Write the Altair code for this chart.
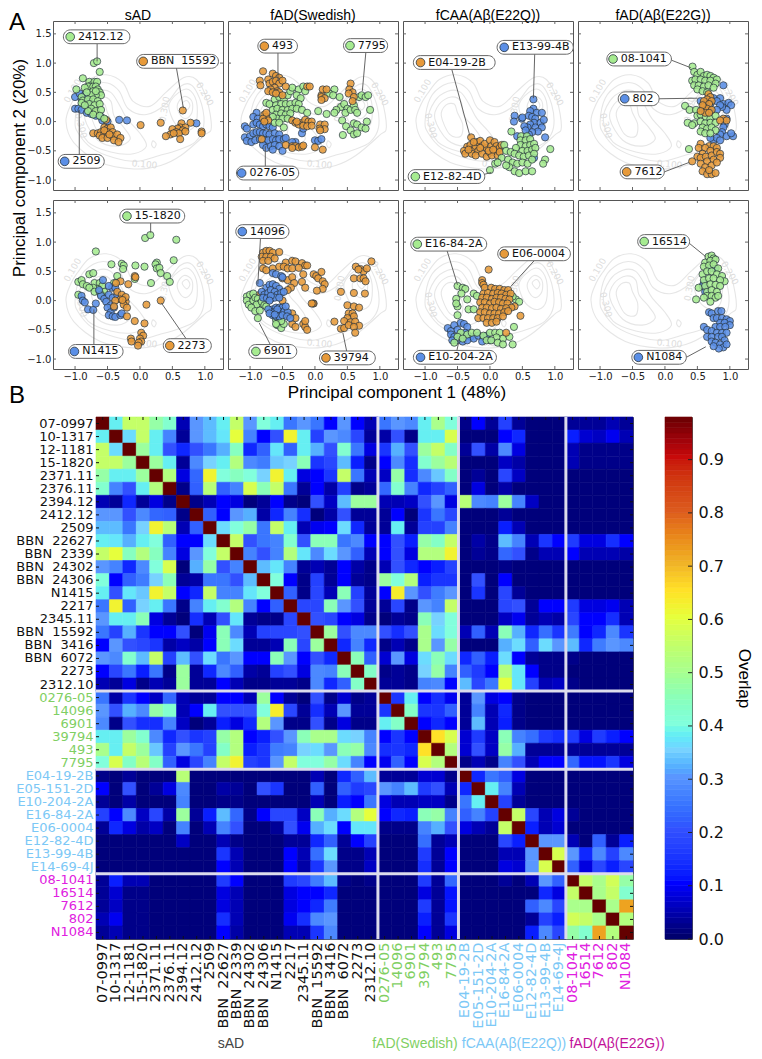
import altair as alt
import pandas as pd

GREEN = "#a6eb90"
BLUE = "#5b8fe6"
ORANGE = "#e79a3a"

# ---------- scatter data (PC1, PC2) per donor ----------
s2412 = [(-.71,1.0),(-.66,1.03),(-.62,.85),(-.88,.74),(-.78,.68),(-.75,.62),(-.8,.6),(-.85,.58),(-.7,.68),(-.72,.6),(-.66,.68),(-.68,.6),(-.65,.55),(-.72,.52),(-.62,.5),(-.6,.45),(-.68,.45),(-.75,.45),(-.82,.5),(-.98,.55),(-.9,.42),(-.88,.36),(-.8,.38),(-.72,.38),(-.65,.35),(-.78,.3),(-.7,.28),(-.62,.3),(-.75,.22),(-.8,.18),(-.68,.18),(-.6,.2),(-.72,.12),(-.62,.1),(-.55,.05),(-.9,.32),(-.85,.28),(-.68,.52)]
s2509 = [(-1.0,.42),(-.93,.48),(-.85,.45),(-.9,.38),(-.85,.3),(-1.0,.22),(-.95,.22),(-.9,.2),(-.82,.15),(-.75,.13),(-.68,.1),(-.6,.08),(-.58,.02),(-.5,.0),(-.32,.03),(-.2,.02),(.87,-.03),(-.78,.35),(-.75,.2)]
s15592 = [(.66,.19),(.32,-.02),(.01,-.06),(.64,-.03),(.78,-.02),(.62,-.1),(.7,-.1),(.58,-.12),(.66,-.15),(.5,-.13),(.56,-.18),(.47,-.22),(.4,-.25),(.6,-.2),(.52,-.2),(.62,-.3),(.95,-.17),(.95,-.2),(.7,-.17),(-.72,-.2),(-.65,-.2),(-.6,-.18),(-.55,-.1),(-.5,-.12),(-.45,-.1),(-.62,-.24),(-.55,-.22),(-.5,-.18),(-.42,-.18),(-.58,-.28),(-.5,-.28),(-.42,-.25),(-.35,-.22),(-.3,-.28),(-.4,-.32),(-.33,-.35),(-.55,-.15),(-.47,-.22),(-.7,.16),(-.52,.03)]

s0276 = [(-.9,.15),(-.95,.08),(-.88,.05),(-1.08,-.08),(-1.05,-.12),(-.95,-.05),(-.9,-.02),(-.85,-.05),(-.8,-.08),(-.75,-.05),(-.7,-.08),(-.65,-.1),(-1.08,-.27),(-1.0,-.25),(-.95,-.2),(-.9,-.18),(-.85,-.18),(-.8,-.2),(-.75,-.2),(-.7,-.22),(-.62,-.2),(-.55,-.22),(-1.05,-.33),(-.98,-.35),(-.92,-.32),(-.85,-.3),(-.78,-.32),(-.72,-.32),(-.65,-.3),(-.6,-.32),(-.55,-.3),(-.48,-.3),(-.8,-.4),(-.75,-.45),(-.68,-.42),(-.62,-.4),(-.55,-.42),(-.5,-.5),(-.65,-.48),(-.45,-.28),(-.2,-.2),(-.18,-.12),(.0,-.32),(.05,-.33),(.1,-.3),(-.3,-.35),(-.35,-.35)]
s493 = [(-.8,.86),(-.85,.7),(-.84,.62),(-.72,.72),(-.65,.82),(-.6,.78),(-.55,.75),(-.7,.65),(-.65,.68),(-.6,.7),(-.55,.65),(-.62,.58),(-.68,.55),(-.58,.52),(-.55,.5),(-.72,.52),(-.65,.5),(-.6,.48),(-.5,.7),(-.45,.6),(-.5,.45),(-.12,.6),(-.08,.6),(.1,.45),(.12,.55),(.18,.55),(.1,.42),(.15,.4),(.1,.37),(.55,.65),(.53,.55),(.58,.5),(.52,.48),(.6,.42),(.58,.35),(-.78,.12),(-.75,.08),(-.8,.05),(-.72,.02),(-.78,0.0),(-.75,.15),(-.35,.02),(-.3,-.02),(-.2,-.02),(-.15,.03),(-.1,.0),(-.05,.0),(-.25,-.05),(-.18,-.07),(-.12,-.08),(-.05,-.07),(-.28,.0),(.08,-.05),(.15,-.05),(.15,-.13),(.07,-.12),(.08,-.15),(-.45,-.4),(-.35,-.42),(-.3,-.42),(-.25,-.44),(-.2,-.43),(-.18,-.41),(.0,-.44),(.12,-.48),(-.82,-.3),(-.35,-.45)]
s7795 = [(-.75,.32),(-.7,.3),(-.62,.38),(-.55,.42),(-.48,.38),(-.42,.45),(-.38,.52),(-.35,.58),(-.25,.55),(-.18,.6),(-.15,.52),(-.28,.45),(-.22,.4),(-.6,.28),(-.52,.3),(-.45,.3),(-.38,.3),(-.3,.32),(-.25,.3),(-.65,.2),(-.58,.22),(-.5,.2),(-.42,.2),(-.35,.22),(-.28,.22),(-.6,.12),(-.52,.14),(-.45,.12),(-.38,.14),(-.58,.05),(-.5,.05),(-.42,.05),(-.65,.08),(-.62,-.02),(-.55,-.02),(-.48,-.1),(-.2,.2),(-.12,.15),(.05,.18),(.18,.13),(.3,.55),(.22,.48),(.28,.45),(.38,.42),(.4,.25),(.33,.2),(.3,.15),(.45,.3),(.5,.22),(.47,.15),(.55,.2),(.6,.28),(.68,.42),(.72,.45),(.78,.42),(.82,.45),(.85,.2),(.62,.2),(.65,.15),(.42,.02),(.48,-.08),(.55,-.15),(.6,-.03),(.65,-.05),(.72,-.1),(.8,0.0),(.78,-.12),(.43,-.23),(.6,-.22),(.65,-.2)]

sE13 = [(.67,.38),(.67,.22),(.72,.15),(.62,.18),(.8,.15),(.38,.1),(.37,0),(.49,.05),(.5,.07),(.6,.1),(.65,.08),(.7,.05),(.68,-.02),(.62,-.05),(.58,-.1),(.53,-.08),(.7,-.1),(.78,-.02),(.83,.03),(.8,-.1),(.74,-.17),(.65,-.18),(.6,-.22),(.55,-.15),(.42,-.25),(.85,-.27),(.68,-.62)]
sE04 = [(-.29,-.27),(-.35,-.43),(-.4,-.5),(-.38,-.55),(-.3,-.4),(-.25,-.48),(-.22,-.42),(-.2,-.35),(-.15,-.33),(-.12,-.42),(-.18,-.5),(-.28,-.55),(-.22,-.58),(-.12,-.55),(-.05,-.6),(.0,-.53),(-.05,-.45),(-.08,-.38),(.0,-.32),(.02,-.42),(.07,-.35),(.1,-.42),(.08,-.5),(.03,-.58),(.12,-.58),(.15,-.45),(.15,-.52),(-.33,-.48),(-.25,-.35),(-.15,-.45),(-.02,-.5),(.05,-.48),(.18,-.4)]
sE12 = [(.33,-.17),(.48,-.25),(.57,-.25),(.47,-.32),(.55,-.32),(.62,-.3),(.47,-.4),(.55,-.42),(.62,-.4),(.68,-.38),(.4,-.45),(.5,-.5),(.58,-.5),(.65,-.48),(.7,-.45),(.22,-.4),(.25,-.5),(.32,-.52),(.38,-.55),(.45,-.58),(.52,-.6),(.6,-.58),(.68,-.55),(.18,-.62),(.28,-.65),(.35,-.7),(.42,-.72),(.5,-.7),(.58,-.72),(.65,-.65),(.3,-.78),(.38,-.85),(.45,-.88),(.55,-.85),(.65,-.85),(.0,-.83),(.08,-.72),(.12,-.7),(.25,-.75),(.93,-.47),(.85,-.65),(.82,-.72)]

s802 = [(.9,.62),(.85,.4),(.9,.3),(.98,.32),(1.02,.28),(.95,.2),(.88,.25),(.55,.35),(.6,.3),(.65,.25),(.7,.38),(.75,.4),(.8,.35),(.85,.28),(.58,.2),(.7,.18),(.8,.2),(.95,.05),(.92,-.05),(.9,-.1),(.88,-.18),(.95,-.25),(1.05,-.25),(1.02,-.2),(.85,-.22),(.75,-.32),(.8,-.28),(.7,-.28),(.85,-.32),(.7,.3)]
s081041 = [(.425,.94),(.45,.85),(.5,.8),(.55,.85),(.6,.78),(.65,.8),(.7,.78),(.75,.75),(.8,.72),(.42,.7),(.47,.72),(.55,.72),(.62,.7),(.7,.7),(.78,.65),(.45,.62),(.52,.62),(.6,.6),(.67,.62),(.75,.58),(.5,.55),(.58,.52),(.65,.5),(.31,.27),(.38,.2),(.48,.2),(.5,.1),(.55,.12),(.63,.08),(.7,.05),(.78,.1),(.45,-.03),(.55,0.0),(.62,-.03),(.7,-.02),(.78,-.02),(.35,-.02),(.42,-.06),(.58,-.1),(.65,-.12),(.72,-.1),(.78,-.15),(.55,-.17),(.62,-.2),(.7,-.2),(.37,-.47)]
s7612 = [(.67,.47),(.7,.42),(.65,.38),(.6,.35),(.72,.35),(.68,.3),(.6,.25),(.65,.22),(.72,.2),(.62,.15),(.58,.28),(.68,.15),(.55,.18),(.9,.05),(.95,.02),(.85,.02),(.55,-.38),(.52,-.45),(.68,-.42),(.75,-.42),(.62,-.45),(.8,-.45),(.7,-.5),(.58,-.55),(.5,-.6),(.55,-.62),(.63,-.6),(.72,-.58),(.8,-.52),(.85,-.55),(.65,-.68),(.75,-.65),(.85,-.62),(.55,-.72),(.62,-.78),(.72,-.75),(.8,-.7),(.58,-.85),(.65,-.9),(.72,-.9),(.78,-.88),(.68,-.83),(.42,-.68)]

s151820 = [(.08,1.07),(.16,1.12),(.56,1.04),(-.68,.84),(-.44,.62),(-.28,.63),(-.25,.6),(-.26,.54),(-.07,.6),(.07,.58),(.26,.65),(.24,.62),(.26,.55),(.3,.56),(.32,.47),(.52,.69),(.42,.42),(.46,.32),(.17,.3),(-.35,.42),(-.08,.37),(-.95,.32),(-.9,.35),(-.78,.45),(-.72,.47),(-.7,.3),(-.88,.28),(-.82,.25),(-.62,.3),(-.58,.25),(-.65,.2),(-.72,.22),(-.78,.22),(-.7,.15),(-.62,.15),(-.55,.15),(-.6,.1),(-.95,.1),(-.4,.3)]
sN1415 = [(-.57,.35),(-.43,.22),(-.38,.22),(-.48,.25),(-.9,.08),(-.88,.0),(-.85,-.03),(-.8,-.15),(-.72,-.16),(-.68,-.05),(-.6,.08),(-.55,.03),(-.52,-.02),(-.48,.1),(-.42,.05),(-.45,-.08),(-.5,-.12),(-.45,-.2),(-.48,-.25),(-.42,-.27),(-.38,-.28),(-.3,-.25),(-.28,-.22),(-.4,-.12),(-.35,.1),(-.63,.18)]
s2273 = [(.32,.0),(.1,-.07),(-.08,.42),(-.07,.4),(-.3,.33),(-.35,.15),(-.37,.3),(-.18,.28),(-.28,.1),(-.25,.02),(-.3,.02),(-.22,-.02),(-.38,-.0),(-.25,-.07),(-.4,-.1),(-.2,-.12),(-.22,.06),(-.2,-.27),(-.08,-.35),(.07,-.39),(.02,-.55),(.05,-.6),(-.14,-.65),(-.13,-.7),(.0,-.65),(.02,-.7),(-.02,-.72),(-.03,-.77),(-.27,.01)]

s14096 = [(-.85,.3),(-.65,.47),(-.6,.45),(-.52,.42),(-.5,.4),(-.75,.22),(-.7,.27),(-.65,.28),(-.6,.25),(-.55,.2),(-.82,.15),(-.78,.1),(-.72,.13),(-.68,.18),(-.62,.15),(-.58,.1),(-.52,.13),(-.48,.15),(-.8,.05),(-.74,.04),(-.68,.03),(-.62,.05),(-.68,.08),(-.55,.05),(-.7,-.0),(-.65,-.15),(-.6,-.12),(-.55,-.12),(-.5,-.12),(-.68,-.2),(-.63,-.2),(-.58,-.2),(-.53,-.2),(-.47,-.18),(-.42,-.2),(-.65,-.25),(-.6,-.27),(-.55,-.27),(-.5,-.25),(-.43,-.27),(-.38,-.3),(-.72,-.15),(-.7,-.22),(-.58,-.15),(-.62,-.24),(-.45,-.1)]
s39794 = [(-.8,.82),(-.75,.85),(-.7,.85),(-.65,.82),(-.55,.83),(-.82,.75),(-.75,.75),(-.68,.75),(-.8,.68),(-.72,.68),(-.62,.72),(-.45,.65),(-.35,.68),(-.3,.67),(-.2,.64),(-.15,.6),(-.12,.6),(-.8,.55),(-.75,.52),(-.65,.55),(-.55,.58),(-.48,.58),(-.42,.55),(-.35,.55),(-.25,.56),(-.18,.45),(-.5,.38),(-.42,.35),(-.35,.4),(-.32,.3),(-.37,.22),(-.42,.18),(-.2,.32),(-.15,.22),(-.02,.45),(.02,.42),(.1,.49),(.05,.38),(.12,.33),(.15,.28),(.12,.2),(.03,.17),(-.02,-.05),(-.03,-.05),(-.05,-.05),(-.85,.1),(-.5,-.0),(-.35,-.22),(-.42,-.25),(-.35,-.4),(-.3,-.45),(-.18,-.4),(-.15,-.45),(-.12,-.5),(-.15,-.35),(-.3,-.3),(.63,.58),(.7,.54),(.75,.5),(.8,.55),(.87,.67),(.67,.53),(.6,.38),(.7,.38),(.75,.38),(.78,.33),(.4,.15),(.6,.13),(.77,.12),(.5,-.08),(.6,-.1),(.68,-.12),(.52,-.22),(.58,-.22),(.6,-.27),(.5,-.3),(.3,-.36),(.45,-.35),(.55,-.37),(.62,-.36),(.68,-.43),(.4,-.48),(.45,-.47),(.52,-.42),(.6,-.45),(.62,-.55)]
s6901 = [(-1.05,.07),(-1.0,.1),(-.95,.12),(-1.05,.0),(-1.02,-.07),(-.95,.0),(-.92,.05),(-.88,.03),(-.85,-.05),(-.9,-.07),(-.98,-.12),(-.82,-.02),(-.78,-.08),(-.75,-.1),(-.92,-.18),(-.85,-.17),(-.88,-.3),(-.6,-.33),(-.55,-.35),(-.58,-.42),(-.52,-.47),(-.48,-.4),(-.52,-.35),(-.6,-.4)]

sE06 = [(-.02,.53),(-.12,.35),(-.12,.3),(-.1,.27),(-.08,.22),(.02,.22),(.08,.2),(.15,.2),(.22,.18),(.28,.18),(-.1,.12),(-.03,.13),(.05,.12),(.12,.13),(.18,.12),(.25,.1),(.32,.12),(-.12,.05),(-.05,.05),(.03,.03),(.1,.05),(.17,.05),(.24,.03),(.3,.02),(-.15,-.03),(-.08,-.03),(0,-.05),(.07,-.02),(.14,-.03),(.2,-.05),(.27,-.05),(.38,-.1),(.33,-.12),(-.12,-.12),(-.05,-.12),(.03,-.13),(.1,-.12),(.17,-.14),(.25,-.13),(-.15,-.2),(-.08,-.2),(.0,-.22),(.07,-.22),(.14,-.22),(.22,-.2),(.28,-.18),(.47,-.26),(-.18,-.3),(-.1,-.3),(-.03,-.3),(.05,-.3),(.12,-.3),(.2,-.27),(-.05,-.38),(.03,-.38),(.1,-.36),(.25,-.55)]
sE16 = [(-.5,.25),(-.42,.22),(-.38,.2),(-.44,.12),(-.52,.03),(-.35,.02),(-.25,.12),(-.2,.08),(-.5,-.1),(-.33,-.15),(-.25,-.15),(-.5,-.25),(-.52,-.05),(.4,.02),(.45,-.02),(.35,.07),(.37,-.45),(-.45,-.55),(-.5,-.62),(-.35,-.58),(-.28,-.55),(-.2,-.55),(-.1,-.6),(-.05,-.68),(0,-.55),(.08,-.55),(.15,-.55),(.2,-.65),(.3,-.62),(.1,-.63),(.02,-.68),(.12,-.72),(.2,-.75),(.35,-.75),(-.42,-.65),(-.55,-.72)]
sE10 = [(-.65,-.47),(-.6,-.52),(-.55,-.42),(-.45,-.38),(-.4,-.4),(-.35,-.45),(-.6,-.58),(-.55,-.62),(-.5,-.68),(-.45,-.62),(-.38,-.55),(-.3,-.62),(-.25,-.65),(-.18,-.6),(-.1,-.62),(-.05,-.6),(-.12,-.7),(-.42,-.7),(-.35,-.68),(-.5,-.5),(-.58,-.68),(0,-.68)]

s16514 = [(.67,.75),(.72,.77),(.75,.72),(.62,.65),(.7,.68),(.78,.7),(.6,.58),(.68,.6),(.75,.62),(.82,.55),(.58,.45),(.65,.5),(.72,.5),(.8,.45),(.88,.42),(.92,.33),(.6,.35),(.68,.38),(.75,.38),(.85,.35),(.52,.22),(.62,.25),(.7,.28),(.78,.27),(.85,.25),(.65,.15),(.72,.18),(.8,.15),(.65,.08),(.72,.08),(.78,.05),(.48,.02),(.7,-.02),(.82,.08),(.6,.05)]
sN1084 = [(.6,.3),(.58,.25),(.62,.15),(.7,.55),(.78,.55),(.68,-.2),(.72,-.22),(.82,-.18),(.87,-.18),(.75,-.3),(.8,-.3),(.88,-.3),(.95,-.32),(1.0,-.35),(.85,-.38),(.92,-.38),(1.0,-.42),(.78,-.45),(.85,-.45),(.93,-.45),(.6,-.45),(.65,-.5),(.72,-.52),(.8,-.55),(.88,-.55),(.95,-.55),(.65,-.62),(.72,-.62),(.82,-.62),(.88,-.62),(.92,-.68),(.72,-.7),(.78,-.72),(.85,-.75),(.9,-.8),(.83,-.82),(.75,-.78),(.95,-.75)]

# panel title, series in drawing order (points, colour),
# labels: text, colour, box x0, box x1, y, circle x, leader x1, y1, x2, y2
panels = [
 ("sAD", [(s2509,BLUE),(s15592,ORANGE),(s2412,GREEN)], [
   ("2412.12",GREEN,-1.18,-.155,1.45,-1.075,-.66,1.33,-.66,1.03),
   ("BBN  15592",ORANGE,-.05,1.21,1.03,.05,.56,.93,.67,.23),
   ("2509",BLUE,-1.26,-.55,-.68,-1.16,-.935,-.58,-.935,.2)]),
 ("fAD(Swedish)", [(s0276,BLUE),(s7795,GREEN),(s493,ORANGE)], [
   ("493",ORANGE,-.88,-.27,1.29,-.78,-.57,1.18,-.57,.7),
   ("7795",GREEN,.44,1.12,1.3,.54,.785,1.19,.73,.52),
   ("0276-05",BLUE,-1.21,-.25,-.88,-1.13,-.765,-.77,-.765,-.42)]),
 ("fCAA(A\u03b2(E22Q))", [(sE13,BLUE),(sE04,ORANGE),(sE12,GREEN)], [
   ("E04-19-2B",ORANGE,-1.18,.08,1.01,-1.07,-.59,.9,-.31,-.24),
   ("E13-99-4B",BLUE,.11,1.285,1.27,.22,.69,1.16,.67,.4),
   ("E12-82-4D",GREEN,-1.26,-.08,-.94,-1.15,-.08,-.9,.02,-.87)]),
 ("fAD(A\u03b2(E22G))", [(s802,BLUE),(s081041,GREEN),(s7612,ORANGE)], [
   ("08-1041",GREEN,-.895,.1,1.07,-.8,.1,1.05,.4,.92),
   ("802",BLUE,-.72,-.09,.39,-.62,-.09,.39,.5,.4),
   ("7612",ORANGE,-.69,-.01,-.86,-.59,-.01,-.86,.37,-.7)]),
 (None, [(s151820,GREEN),(sN1415,BLUE),(s2273,ORANGE)], [
   ("15-1820",GREEN,-.31,.69,1.445,-.2,.165,1.33,.165,1.16),
   ("N1415",BLUE,-1.1,-.26,-.87,-1.01,-.71,-.77,-.71,-.15),
   ("2273",ORANGE,.36,1.1,-.77,.46,.71,-.65,.33,-.04)]),
 (None, [(s39794,ORANGE),(s6901,GREEN),(s14096,BLUE)], [
   ("14096",BLUE,-1.22,-.4,1.18,-1.12,-.84,1.06,-.88,.28),
   ("6901",GREEN,-1.02,-.28,-.87,-.91,-.68,-.77,-.86,-.38),
   ("39794",ORANGE,.07,.93,-.98,.17,.49,-.87,.43,-.55)]),
 (None, [(sE10,BLUE),(sE16,GREEN),(sE06,ORANGE)], [
   ("E16-84-2A",GREEN,-1.22,-.05,.965,-1.12,-.66,.85,-.5,.27),
   ("E06-0004",ORANGE,.12,1.24,.8,.22,.68,.68,.32,.24),
   ("E10-204-2A",BLUE,-1.18,.1,-.97,-1.07,-.51,-.86,-.47,-.65)]),
 (None, [(sN1084,BLUE),(s16514,GREEN)], [
   ("16514",GREEN,-.42,.38,1.01,-.32,.375,.98,.63,.75),
   ("N1084",BLUE,-.51,.33,-.97,-.41,.33,-.97,.63,-.79)]),
]

# ---------- background density contours ----------
contours = [
 [(-1.14,.0),(-1.06,.3),(-.96,.48),(-.78,.72),(-.52,.8),(-.26,.66),(-.11,.35),(.15,.26),(.4,.5),(.67,.75),(.87,.72),(1.03,.38),(1.1,-.1),(.99,-.24),(.63,-.58),(.32,-.75),(-.09,-.81),(-.61,-.7),(-1.02,-.36)],
 [(-1.0,0.0),(-.92,.4),(-.72,.62),(-.5,.66),(-.32,.52),(-.18,.22),(.1,.12),(.4,.3),(.62,.6),(.8,.62),(.95,.3),(.98,-.1),(.85,-.35),(.6,-.48),(.3,-.58),(-.05,-.68),(-.4,-.62),(-.75,-.45),(-.95,-.2)],
 [(-.95,.02),(-.85,.35),(-.65,.52),(-.45,.5),(-.3,.25),(-.2,.05),(0,-.2),(.1,-.42),(-.1,-.55),(-.45,-.52),(-.8,-.35)],
 [(.45,.3),(.6,.5),(.75,.55),(.87,.35),(.87,0),(.75,-.15),(.58,-.08),(.48,.1)],
 [(-.85,.05),(-.78,.3),(-.6,.42),(-.45,.35),(-.4,.1),(-.25,-.1),(-.15,-.3),(-.35,-.42),(-.65,-.32)],
 [(.58,.3),(.68,.43),(.8,.35),(.8,.15),(.7,.05),(.6,.15)],
 [(-.75,.1),(-.68,.28),(-.55,.3),(-.5,.15),(-.42,-.05),(-.45,-.25),(-.62,-.22)],
 [(.65,.3),(.72,.36),(.77,.28),(.72,.2)],
 [(.2,-.33),(.25,-.38),(.22,-.45),(.18,-.4)],
]
contour_labels = [("0.100",-1.04,.525,300),("0.300",-.91,-.07,75),("0.200",1.0,.47,60),("0.300",.38,.21,280),("0.100",.07,-.73,5)]

xticks = [-1.0,-.5,0.0,.5,1.0]
yticks = [-1.0,-.5,0.0,.5,1.0,1.5]
XDOM = [-1.34,1.28]
YDOM = [-1.17,1.72]

contour_df = pd.DataFrame([{"c":c,"i":i,"x":p[0],"y":p[1]} for c,ps in enumerate(contours) for i,p in enumerate(ps)])
clabel_df = pd.DataFrame(contour_labels, columns=["t","x","y","a"])
xt_df = pd.DataFrame({"x":xticks})
yt_df = pd.DataFrame({"y":yticks})

PW, PH = 170, 169
xs = alt.Scale(domain=XDOM, nice=False, zero=False)
ys = alt.Scale(domain=YDOM, nice=False, zero=False)
TICK = "#666666"

def make_panel(idx, title, series, labels):
    left = idx % 4 == 0
    bottom = idx >= 4
    ax = dict(tickSize=0, domain=False, grid=False, title=None, format=".1f",
              labelFont="DejaVu Sans", labelFontSize=10, labelColor="#222222", labelPadding=2)
    xa = alt.Axis(values=xticks, labels=bottom, **ax)
    ya = alt.Axis(values=yticks, labels=left, **ax)
    NOX = alt.X("x:Q", scale=xs, axis=xa)
    NOY = alt.Y("y:Q", scale=ys, axis=ya)
    layers = [
        alt.Chart(contour_df).mark_line(interpolate="cardinal-closed", color="#e6e6e6", strokeWidth=1.1, clip=True).encode(
            x=NOX, y=NOY, detail="c:N", order="i:Q"),
        alt.Chart(clabel_df).mark_text(font="DejaVu Sans", fontSize=9, color="#dddddd").encode(
            x=NOX, y=NOY, text="t:N", angle=alt.Angle("a:Q", scale=None)),
        alt.Chart(xt_df).mark_rule(color=TICK).encode(x=NOX, y=alt.value(0), y2=alt.value(3)),
        alt.Chart(xt_df).mark_rule(color=TICK).encode(x=NOX, y=alt.value(PH-3), y2=alt.value(PH)),
        alt.Chart(yt_df).mark_rule(color=TICK).encode(y=NOY, x=alt.value(0), x2=alt.value(3)),
        alt.Chart(yt_df).mark_rule(color=TICK).encode(y=NOY, x=alt.value(PW-3), x2=alt.value(PW)),
    ]
    for pts, col in series:
        d = pd.DataFrame(pts, columns=["x","y"])
        layers.append(alt.Chart(d).mark_circle(size=52, color=col, opacity=.88, stroke="#26323c", strokeWidth=.8).encode(x=NOX, y=NOY))
    for (t,col,x0,x1,y,cx,lx1,ly1,lx2,ly2) in labels:
        ld = pd.DataFrame([{"x":lx1,"y":ly1,"x2":lx2,"y2":ly2}])
        layers.append(alt.Chart(ld).mark_rule(color="#555555", strokeWidth=.9).encode(x=NOX, y=NOY, x2="x2:Q", y2="y2:Q"))
        bd = pd.DataFrame([{"x":x0,"x2":x1,"y":y-.118,"y2":y+.118}])
        layers.append(alt.Chart(bd).mark_rect(fill="white", stroke="#666666", strokeWidth=1, cornerRadius=7).encode(x=NOX, y=NOY, x2="x2:Q", y2="y2:Q"))
        cd = pd.DataFrame([{"x":cx,"y":y}])
        layers.append(alt.Chart(cd).mark_circle(size=75, color=col, opacity=1, stroke="#26323c", strokeWidth=.8).encode(x=NOX, y=NOY))
        td = pd.DataFrame([{"x":cx+.12,"y":y,"t":t.replace("  ","\u00a0\u00a0")}])
        layers.append(alt.Chart(td).mark_text(align="left", baseline="middle", font="DejaVu Sans", fontSize=11, color="#111111").encode(x=NOX, y=NOY, text="t:N"))
    one = pd.DataFrame([{"a":0}])
    def extra(text, x, y, **kw):
        return alt.Chart(one).mark_text(text=text, **kw).encode(x=alt.value(x), y=alt.value(y))
    if title:
        layers.append(extra(title, PW/2, -1, fontSize=14, font="Liberation Sans", baseline="alphabetic", color="black"))
    if idx == 0:
        layers.append(extra("A", -44, 2, fontSize=24, font="Liberation Sans", align="left", color="black"))
    if idx == 4:
        layers.append(extra("Principal component 2 (20%)", -33, -32, fontSize=17, font="Liberation Sans", angle=270, baseline="middle", color="black"))
        layers.append(extra("B", -44, 196, fontSize=24, font="Liberation Sans", align="left", color="black"))
    if idx == 5:
        layers.append(extra("Principal component 1 (48%)", 169, 193, fontSize=17, font="Liberation Sans", baseline="middle", color="black"))
    return alt.layer(*layers).properties(width=PW, height=PH)

top = alt.concat(*[make_panel(i,*p) for i,p in enumerate(panels)], columns=4).properties(
    bounds="flush", spacing={"row":10,"column":5})

# ---------- overlap matrix ----------
sad = ["07-0997","10-1317","12-1181","15-1820","2371.11","2376.11","2394.12","2412.12","2509","BBN\u00a0\u00a022627","BBN\u00a0\u00a02339","BBN\u00a0\u00a024302","BBN\u00a0\u00a024306","N1415","2217","2345.11","BBN\u00a0\u00a015592","BBN\u00a0\u00a03416","BBN\u00a0\u00a06072","2273","2312.10"]
swe = ["0276-05","14096","6901","39794","493","7795"]
e22q = ["E04-19-2B","E05-151-2D","E10-204-2A","E16-84-2A","E06-0004","E12-82-4D","E13-99-4B","E14-69-4J"]
e22g = ["08-1041","16514","7612","802","N1084"]
names = sad+swe+e22q+e22g

upper = [
 [.38,.55,.55,.47,.42,.05,.3,.33,.38,.55,.3,.4,.38,.25,.3,.25,.1,.3,.1,.05,.25,.3,.28,.38,.5,.4,.02,.1,.03,.17,.03,.01,.01,.01,.03,.03,.03,.05,.03],
 [.36,.55,.38,.27,.03,.3,.33,.37,.6,.27,.1,.2,.62,.38,.17,.3,.28,.18,.03,.04,.2,.02,.38,.38,.58,.01,.01,.01,.1,.13,.01,.01,.01,.12,.07,.06,.09,.05],
 [.48,.38,.2,.13,.2,.25,.32,.44,.13,.22,.37,.22,.38,.32,.2,.42,.25,.08,.15,.32,.2,.48,.55,.43,.03,.2,.04,.28,.08,.01,.01,.01,.05,.02,.02,.02,.02],
 [.48,.38,.03,.28,.35,.38,.52,.28,.26,.34,.35,.45,.15,.18,.33,.12,.02,.1,.28,.14,.42,.48,.53,.01,.01,.01,.06,.04,.01,.01,.01,.05,.02,.02,.02,.02],
 [.52,.08,.23,.62,.4,.44,.4,.35,.62,.38,.08,.1,.15,.55,.25,.05,.06,.47,.14,.28,.34,.43,.01,.03,.01,.18,.06],
 [.02,.22,.53,.22,.27,.58,.45,.55,.25,.03,.1,.04,.17,.02,.03,.23,.42,.27,.13,.17,.22,.01,.08,.01,.04],
 [.02,.05,.1,.08,.01,.03,.1,.02,.01,.2,.06,.33,.48,.48,.05,.05,.06,.2,.3,.08,.53,.28,.27,.48,.27,.06],
 [.22,.1,.3,.32,.04,.13,.27,.14,.01,.04,.2,.03,.03,.03,.1,.01,.15,.25,.18,.01,.01,.01,.03],
 [.36,.4,.47,.25,.55,.38,.05,.09,.1,.36,.13,.03,.03,.38,.03,.17,.17,.27,.01,.01,.01,.12,.05],
 [.55,.2,.25,.27,.42,.2,.45,.45,.25,.28,.1,.1,.2,.12,.47,.43,.55,.01,.04,.02,.33,.27,.05,.15,.1,.16,.08,.08,.14,.1],
 [.27,.2,.27,.52,.37,.28,.36,.3,.22,.05,.1,.2,.08,.52,.52,.62,.01,.03,.02,.23,.2,.02,.05,.05,.1,.05,.05,.05,.04],
 [.33,.37,.27,.03,.05,.03,.1,.04,.02,.05,.2,.13,.1,.12,.17,.01,.01,.01,.02],
 [.4,.1,.02,.17,.03,.1,.03,.02,.48,.4,.52,.12,.15,.15,.01,.2,.01,.1,.01],
 [.22,.02,.18,.05,.45,.17,.03,.1,.63,.3,.2,.26,.3,.01,.15,.01,.18,.03],
 [.18,.18,.45,.3,.2,.03,.03,.18,.02,.3,.27,.55,.01,.01,.01,.18,.2,.03,.1,.1,.16,.08,.08,.09,.05],
 [.2,.18,.1,.08,.02,.01,.03,.02,.45,.35,.4,.01,.01,.01,.06,.09,.03,.05,.04,.18,.1,.1,.14,.05],
 [.48,.2,.28,.28,.2,.14,.2,.5,.36,.4,.05,.22,.05,.45,.32,.13,.24,.15,.26,.1,.13,.28,.15],
 [.13,.27,.13,.02,.05,.02,.5,.3,.47,.01,.01,.01,.32,.36,.22,.36,.3,.33,.13,.26,.3,.28],
 [.45,.22,.07,.3,.08,.36,.45,.36,.13,.22,.12,.36,.1,.03,.02,.02,.02],
 [.43,.02,.03,.02,.35,.47,.27,.22,.16,.1,.52,.37,.1,.02,.02],
 [.03,.03,.02,.27,.28,.1,.33,.18,.25,.6,.37,.17,.05,.06,.02],
 [.15,.38,.1,.14,.09,.03,.3,.08,.1,.02],
 [.43,.15,.15,.22,.03,.27,.05,.13,.02],
 [.1,.13,.1,.03,.33,.05,.12,.02],
 [.65,.58,.07,.16,.06,.45,.27,.24,.16,.14,.16,.08,.16,.12,.1],
 [.52,.07,.2,.06,.47,.32,.03,.03,.03,.03,.03,.03,.03,.03],
 [.02,.05,.02,.27,.2,.05,.1,.1,.23,.11,.11,.15,.08],
 [.13,.25,.22,.08],
 [.38,.27,.05],
 [.17,.03],
 [.55,.18,.05,.08,.03],
 [.12,.05,.07],
 [.3,.3,.05,.01,.22,.03,.12],
 [.58,.3,.13,.28,.17,.28],
 [.22,.08,.18,.12,.18],
 [.55,.5,.57,.47],
 [.5,.55,.42],
 [.5,.72],
 [.52],
]
DIAG = .98
BASE = .01
n = len(names)
M = [[BASE]*n for _ in range(n)]
for i,row in enumerate(upper):
    M[i][i] = DIAG
    for k,v in enumerate(row):
        M[i][i+1+k] = v
        M[i+1+k][i] = v
M[n-1][n-1] = DIAG
heat_df = pd.DataFrame([{"r":names[i],"c":names[j],"v":M[i][j]} for i in range(n) for j in range(n)])

jet_dom = [0,.05,.1,.2,.3,.35,.4,.5,.6,.65,.7,.8,.9,.98]
jet_col = ["#00006e","#0000b4","#0000ff","#3250ff","#5a96ff","#78d2ff","#82ffdc","#aaff8c","#e6ff3c","#ffe128","#f0b428","#dc5a1e","#c80a0a","#640000"]
cs = alt.Scale(domain=jet_dom, range=jet_col, clamp=True)

HW, HH = 537, 522
bx = alt.Scale(domain=names, paddingInner=0, paddingOuter=0)
by = alt.Scale(domain=names, paddingInner=0, paddingOuter=0)
def q(lst):
    return "[" + ",".join("'%s'" % s for s in lst) + "]"
C_SWE, C_Q, C_G = "#7fcf63", "#7cc8f6", "#e020e0"
lab_col = {"expr": "indexof(%s,datum.value)>=0?'%s':indexof(%s,datum.value)>=0?'%s':indexof(%s,datum.value)>=0?'%s':'#111111'" % (q(swe),C_SWE,q(e22q),C_Q,q(e22g),C_G)}
hax = dict(tickSize=0, domain=False, grid=False, title=None, labelFont="DejaVu Sans",
           labelOverlap=False, labelLimit=200, labelColor=lab_col, labelPadding=3)
HXA = alt.Axis(labelAngle=270, labelAlign="right", labelBaseline="middle", labelFontSize=14.5, **hax)
HYA = alt.Axis(labelFontSize=13, **hax)
names_df = pd.DataFrame({"n":names})
sep_df = pd.DataFrame({"n":[sad[-1],swe[-1],e22q[-1]]})
NX = alt.X("n:N", scale=bx, axis=HXA)
NY = alt.Y("n:N", scale=by, axis=HYA)
SEP = "#dcdcec"
groups = [("sAD",231,"#444444"),("fAD(Swedish)",415,C_SWE),("fCAA(A\u03b2(E22Q))",514,C_Q),("fAD(A\u03b2(E22G))",617,"#c2129a")]
one = pd.DataFrame([{"a":0}])
hl = [
  alt.Chart(heat_df).mark_rect(strokeWidth=.6).encode(
      x=alt.X("c:N", scale=bx, axis=HXA),
      y=alt.Y("r:N", scale=by, axis=HYA),
      color=alt.Color("v:Q", scale=cs, legend=None),
      stroke=alt.Stroke("v:Q", scale=cs, legend=None)),
  alt.Chart(names_df).mark_rule(color="#111111").encode(x=NX, y=alt.value(0), y2=alt.value(3)),
  alt.Chart(names_df).mark_rule(color="#111111").encode(x=NX, y=alt.value(HH-3), y2=alt.value(HH)),
  alt.Chart(names_df).mark_rule(color="#111111").encode(y=NY, x=alt.value(0), x2=alt.value(3)),
  alt.Chart(names_df).mark_rule(color="#111111").encode(y=NY, x=alt.value(HW-3), x2=alt.value(HW)),
  alt.Chart(sep_df).mark_rule(color=SEP, strokeWidth=3).encode(x=alt.X("n:N", scale=bx, axis=HXA, bandPosition=1), y=alt.value(0), y2=alt.value(HH)),
  alt.Chart(sep_df).mark_rule(color=SEP, strokeWidth=3).encode(y=alt.Y("n:N", scale=by, axis=HYA, bandPosition=1), x=alt.value(0), x2=alt.value(HW)),
]
for t,gx,col in groups:
    hl.append(alt.Chart(one).mark_text(text=t, font="Liberation Sans", fontSize=14, color=col).encode(x=alt.value(gx-96), y=alt.value(1044-417)))
heat = alt.layer(*hl).properties(width=HW, height=HH)

# ---------- colour bar ----------
cb_levels = [i/100 for i in range(98)]
cb_df = pd.DataFrame({"lo":cb_levels, "hi":[v+.01 for v in cb_levels]})
cb_ticks = [0.0,.1,.2,.3,.4,.5,.6,.7,.8,.9]
cby = alt.Scale(domain=[0,.98], nice=False, zero=False)
CBA = alt.Axis(orient="right", values=cb_ticks, format=".1f", tickSize=0, domain=False, grid=False,
              labelFont="DejaVu Sans", labelFontSize=16, labelColor="#111111", labelPadding=6,
              title="Overlap", titleFont="Liberation Sans", titleFontSize=17, titleFontWeight="normal",
              titleAngle=90, titlePadding=11, titleColor="black")
cb = alt.layer(
  alt.Chart(cb_df).mark_rect(strokeWidth=.6).encode(
      x=alt.value(0), x2=alt.value(27),
      y=alt.Y("lo:Q", scale=cby, axis=CBA),
      y2="hi:Q", color=alt.Color("lo:Q", scale=cs, legend=None),
      stroke=alt.Stroke("lo:Q", scale=cs, legend=None)),
  alt.Chart(pd.DataFrame({"lo":cb_ticks})).mark_rule(color="#222222").encode(
      y=alt.Y("lo:Q", scale=cby, axis=CBA), x=alt.value(23), x2=alt.value(27)),
).properties(width=27, height=HH)

spacer = alt.Chart(one).mark_rule(opacity=0).encode(x=alt.value(0), y=alt.value(0), y2=alt.value(1)).properties(width=11, height=HH, view=alt.ViewBackground(stroke=None))

bottom = alt.hconcat(spacer, heat, cb).properties(bounds="flush", spacing=32).resolve_scale(color="independent", stroke="independent")

chart = alt.vconcat(top, bottom, spacing=6).properties(padding=0).configure_view(stroke="#555555", strokeWidth=1).configure_concat(spacing=0)
chart.save("out.html", embed_options={"renderer": "svg", "actions": False})
